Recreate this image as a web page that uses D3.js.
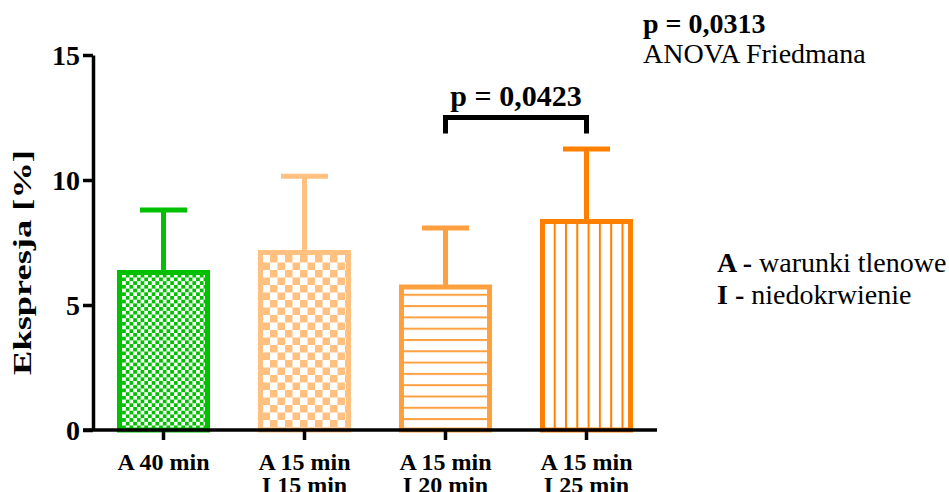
<!DOCTYPE html>
<html>
<head>
<meta charset="utf-8">
<script src="https://cdn.jsdelivr.net/npm/d3@7"></script>
<style>
  body { margin: 0; background: #fff; }
</style>
</head>
<body>
<div id="vis"></div>
<script>
// Chart data
const categories = ["A 40 min", "A 15 min\nI 15 min", "A 15 min\nI 20 min", "A 15 min\nI 25 min"];
const means = [6.3, 7.1, 5.72, 8.34];
const errors = [2.5, 3.05, 2.36, 2.9];
const colors = ["#00c000", "#ffc080", "#ffa040", "#ff8000"];
const patterns = ["checkSmall", "checkLarge", "hLines", "vLines"];
const yTicks = [0, 5, 10, 15];

// Significance bracket between bars 3 and 4
const bracketPair = [2, 3];
const bracketValue = 12.5;
const bracketLabel = "p = 0,0423";

const FONT = "'Liberation Serif', 'Times New Roman', serif";
const FRAME_WIDTH = 949;
const FRAME_HEIGHT = 492;
const MARGINS = {left: 93, right: 292, top: 55, bottom: 62};

const svg = d3.select("#vis")
              .append("svg")
              .attr("width", FRAME_WIDTH)
              .attr("height", FRAME_HEIGHT);

const X_SCALE = d3.scaleBand()
                  .domain(d3.range(categories.length))
                  .range([MARGINS.left, FRAME_WIDTH - MARGINS.right])
                  .paddingInner(0.34)
                  .paddingOuter(0.17);

const Y_SCALE = d3.scaleLinear()
                  .domain([0, 15])
                  .range([FRAME_HEIGHT - MARGINS.bottom, MARGINS.top]);

// patterns
const defs = svg.append("defs");

let p = defs.append("pattern").attr("id", "checkSmall").attr("patternUnits", "userSpaceOnUse")
            .attr("width", 7.4).attr("height", 7.4);
p.append("rect").attr("width", 7.4).attr("height", 7.4).attr("fill", "#fff");
p.append("rect").attr("width", 3.7).attr("height", 3.7).attr("fill", colors[0]);
p.append("rect").attr("x", 3.7).attr("y", 3.7).attr("width", 3.7).attr("height", 3.7).attr("fill", colors[0]);

p = defs.append("pattern").attr("id", "checkLarge").attr("patternUnits", "userSpaceOnUse")
        .attr("width", 15).attr("height", 15);
p.append("rect").attr("width", 15).attr("height", 15).attr("fill", "#fff");
p.append("rect").attr("width", 7.5).attr("height", 7.5).attr("fill", colors[1]);
p.append("rect").attr("x", 7.5).attr("y", 7.5).attr("width", 7.5).attr("height", 7.5).attr("fill", colors[1]);

p = defs.append("pattern").attr("id", "hLines").attr("patternUnits", "userSpaceOnUse")
        .attr("width", 20).attr("height", 11.3);
p.append("rect").attr("width", 20).attr("height", 11.3).attr("fill", "#fff");
p.append("rect").attr("width", 20).attr("height", 2).attr("fill", colors[2]);

p = defs.append("pattern").attr("id", "vLines").attr("patternUnits", "userSpaceOnUse")
        .attr("width", 11.3).attr("height", 20);
p.append("rect").attr("width", 11.3).attr("height", 20).attr("fill", "#fff");
p.append("rect").attr("width", 2).attr("height", 20).attr("fill", colors[3]);

// error bars (upper only)
const CAP = 47;
means.forEach((m, i) => {
  const cx = X_SCALE(i) + X_SCALE.bandwidth() / 2;
  svg.append("line")
     .attr("x1", cx).attr("x2", cx)
     .attr("y1", Y_SCALE(m)).attr("y2", Y_SCALE(m + errors[i]))
     .attr("stroke", colors[i]).attr("stroke-width", 5);
  svg.append("line")
     .attr("x1", cx - CAP / 2).attr("x2", cx + CAP / 2)
     .attr("y1", Y_SCALE(m + errors[i])).attr("y2", Y_SCALE(m + errors[i]))
     .attr("stroke", colors[i]).attr("stroke-width", 5);
});

// bars
svg.selectAll(".bar")
   .data(means)
   .enter()
   .append("rect")
   .attr("class", "bar")
   .attr("x", (d, i) => X_SCALE(i) + 2.5)
   .attr("y", d => Y_SCALE(d))
   .attr("width", X_SCALE.bandwidth() - 5)
   .attr("height", d => Y_SCALE(0) - Y_SCALE(d))
   .attr("fill", (d, i) => "url(#" + patterns[i] + ")")
   .attr("stroke", (d, i) => colors[i])
   .attr("stroke-width", 5);

// Y axis
const yAxis = svg.append("g")
   .attr("transform", "translate(" + MARGINS.left + ",0)")
   .call(d3.axisLeft(Y_SCALE).tickValues(yTicks).tickSize(10).tickSizeOuter(0).tickPadding(3));
yAxis.selectAll("path, line").attr("stroke", "#000").attr("stroke-width", 3.5);
yAxis.selectAll("text")
     .style("font-family", FONT)
     .attr("font-weight", "bold")
     .attr("font-size", 28)
     .attr("dy", "0.34em")
     .attr("fill", "#000");

// X axis
const xAxis = svg.append("g")
   .attr("transform", "translate(0," + Y_SCALE(0) + ")")
   .call(d3.axisBottom(X_SCALE).tickSize(10).tickSizeOuter(0).tickFormat(""));
xAxis.select(".domain").remove();
xAxis.selectAll("line").attr("stroke", "#000").attr("stroke-width", 3.5);
xAxis.append("line")
     .attr("x1", MARGINS.left - 10).attr("x2", X_SCALE.range()[1])
     .attr("stroke", "#000").attr("stroke-width", 3.5);

// two-line category labels (second line runs off the bottom as in the original)
xAxis.selectAll(".tick").each(function(d) {
  const t = d3.select(this).append("text")
     .style("font-family", FONT)
     .attr("fill", "#000")
     .attr("font-weight", "bold")
     .attr("font-size", 24)
     .attr("text-anchor", "middle");
  categories[d].split("\n").forEach((line, k) => {
    t.append("tspan").attr("x", 0).attr("y", 40 + k * 23).text(line);
  });
});

// Y title (stretched along its length like the original)
svg.append("text")
   .attr("transform", "translate(31," + ((Y_SCALE(0) + Y_SCALE(15)) / 2 + 20) + ") rotate(-90) scale(1.4,1)")
   .style("font-family", FONT)
   .attr("text-anchor", "middle")
   .attr("font-weight", "bold")
   .attr("font-size", 26)
   .text("Ekspresja [%]");

// significance bracket
const bx1 = X_SCALE(bracketPair[0]) + X_SCALE.bandwidth() / 2;
const bx2 = X_SCALE(bracketPair[1]) + X_SCALE.bandwidth() / 2;
const by = Y_SCALE(bracketValue);
svg.append("path")
   .attr("d", "M" + bx1 + "," + (by + 16) + "V" + by + "H" + bx2 + "V" + (by + 16))
   .attr("fill", "none").attr("stroke", "#000").attr("stroke-width", 5);
svg.append("text")
   .style("font-family", FONT)
   .attr("x", (bx1 + bx2) / 2)
   .attr("y", by - 12)
   .attr("text-anchor", "middle")
   .attr("font-weight", "bold")
   .attr("font-size", 30)
   .text(bracketLabel);

// annotations
svg.append("text").style("font-family", FONT).attr("x", 643).attr("y", 33)
   .attr("font-weight", "bold").attr("font-size", 28).text("p = 0,0313");
svg.append("text").style("font-family", FONT).attr("x", 643).attr("y", 63)
   .attr("font-size", 28).text("ANOVA Friedmana");

const legend = svg.append("text").style("font-family", FONT).attr("x", 717).attr("y", 272).attr("font-size", 28);
legend.append("tspan").attr("font-weight", "bold").text("A - ");
legend.append("tspan").text("warunki tlenowe");
const legend2 = svg.append("text").style("font-family", FONT).attr("x", 717).attr("y", 304).attr("font-size", 28);
legend2.append("tspan").attr("font-weight", "bold").text("I - ");
legend2.append("tspan").text("niedokrwienie");
</script>
</body>
</html>
